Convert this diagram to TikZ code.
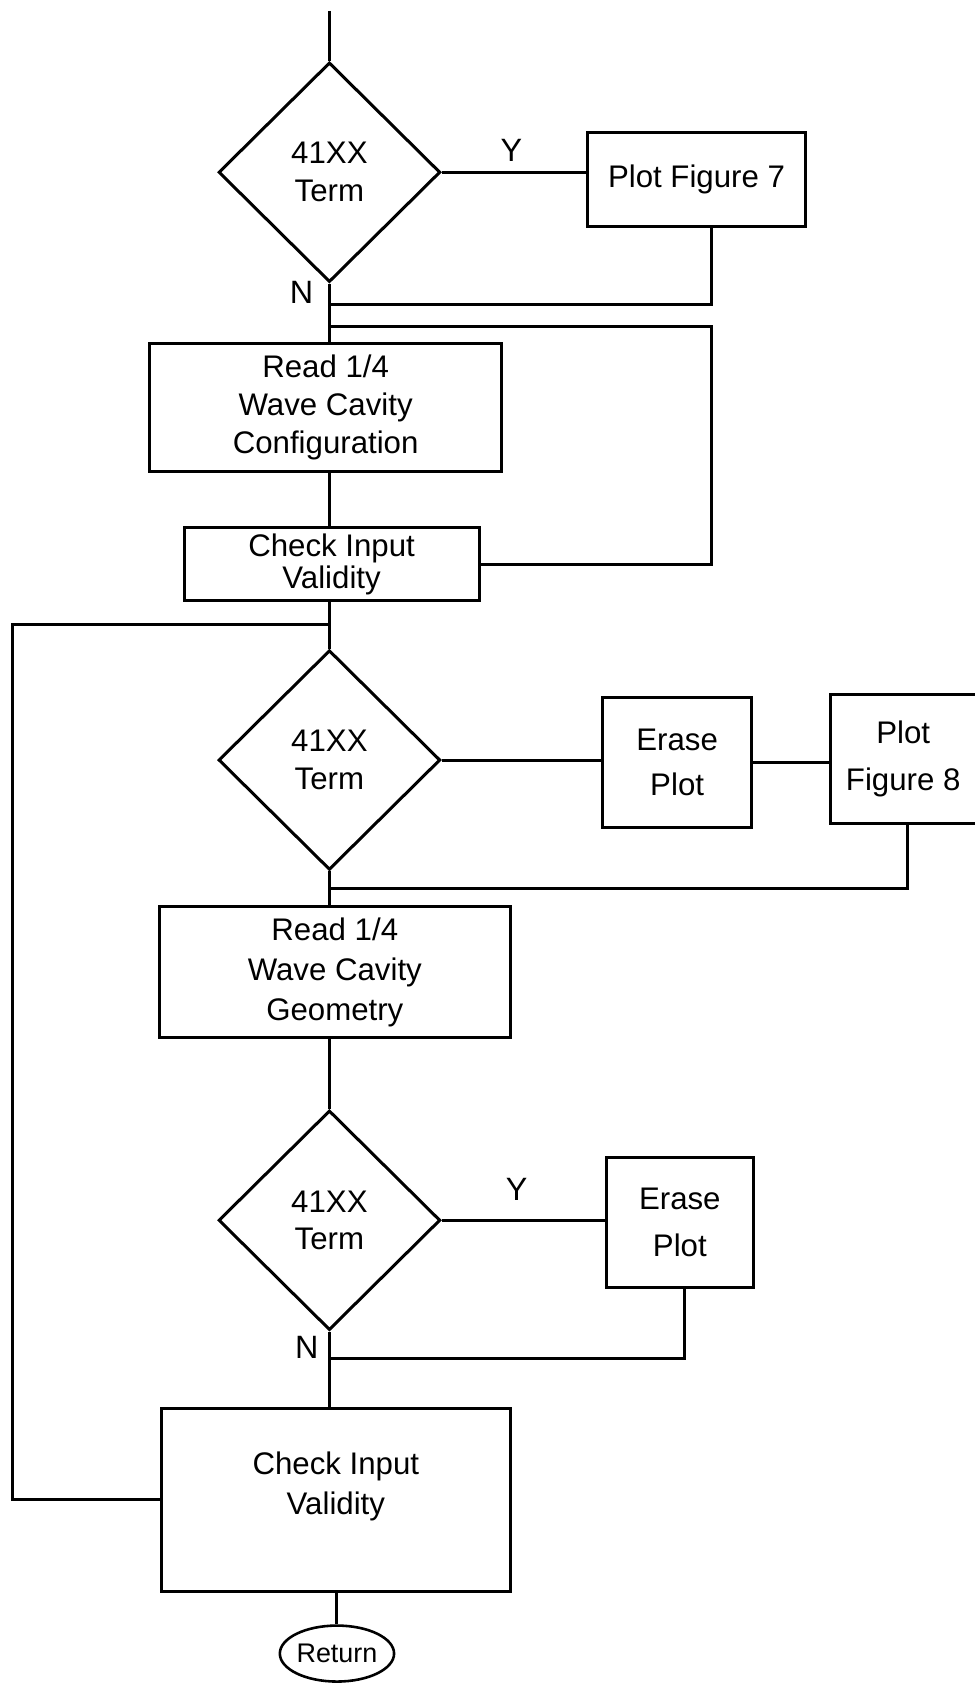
\documentclass[tikz,border=0pt]{standalone}
\usepackage{fontspec}
\setmainfont{Liberation Sans}
\usetikzlibrary{shapes.geometric}
\begin{document}
\begin{tikzpicture}[x=1pt,y=-1pt, line width=2.8pt, line join=miter,
  box/.style={draw, rectangle, align=center, inner sep=0pt, font=\fontsize{29}{35}\selectfont},
  dec/.style={draw, diamond, minimum width=206pt, minimum height=204pt, inner sep=0pt, align=center, font=\fontsize{29}{35}\selectfont},
  lbl/.style={font=\fontsize{30}{30}\selectfont, inner sep=0pt}]
\useasboundingbox (0,0) rectangle (905,1568);

\node[dec] (d1) at (306,160) {41XX\\Term};
\node[box, minimum width=202pt, minimum height=87pt] (pf7) at (647,166.5) {Plot Figure 7};
\node[box, minimum width=327pt, minimum height=119pt] (r1) at (302.5,378.5) {Read 1/4\\Wave Cavity\\Configuration};
\node[box, minimum width=274pt, minimum height=68pt, font=\fontsize{29}{30}\selectfont] (c1) at (308,524) {Check Input\\Validity};
\node[dec] (d2) at (306,706) {41XX\\Term};
\node[box, minimum width=138pt, minimum height=121pt, font=\fontsize{29}{42}\selectfont] (e1) at (629,708.5) {Erase\\Plot};
\node[box, minimum width=136pt, minimum height=120pt, font=\fontsize{29}{43}\selectfont] (pf8) at (839,705) {Plot\\Figure 8};
\node[box, minimum width=326pt, minimum height=122pt, font=\fontsize{29}{37}\selectfont] (r2) at (311,903) {Read 1/4\\Wave Cavity\\Geometry};
\node[dec] (d3) at (306,1133.5) {41XX\\Term};
\node[box, minimum width=137pt, minimum height=121pt, font=\fontsize{29}{43}\selectfont] (e2) at (631.5,1135.5) {Erase\\Plot};
\node[box, minimum width=324pt, minimum height=170pt, text depth=30pt, font=\fontsize{29}{37}\selectfont] (c2) at (312,1393) {Check Input\\Validity};
\node[draw, ellipse, minimum width=104pt, minimum height=52pt, inner sep=0pt, line width=2.4pt, font=\fontsize{25}{25}\selectfont] (ret) at (313,1536) {Return};

\node[lbl] (y1) at (475,140) {Y};
\node[lbl] (n1) at (280,272) {N};
\node[lbl] (y3) at (480,1105) {Y};
\node[lbl] (n3) at (285,1252) {N};

\coordinate (top) at (306,10);
\coordinate (j1) at (306,283);
\coordinate (j2) at (306,303);
\coordinate (j3) at (306,580);
\coordinate (j4) at (306,825);
\coordinate (j5) at (306,1262);
\coordinate (lp) at (12,580);
\coordinate (rp) at (661,303);

\draw (top) -- (d1.north);
\draw (d1.east) -- (d1.east -| pf7.west);
\draw (d1.south) -- (d1.south |- r1.north);
\draw (pf7.south -| 661,0) |- (j1);
\draw (c1.east) -| (rp) -- (j2);
\draw (j2 |- r1.south) -- (j2 |- c1.north);
\draw (j3 |- c1.south) -- (d2.north);
\draw (j3) -- (lp) |- (c2.west);
\draw (d2.east) -- (d2.east -| e1.west);
\draw (e1.east) -- (e1.east -| pf8.west);
\draw (pf8.south -| 843,0) |- (j4);
\draw (d2.south) -- (d2.south |- r2.north);
\draw (d2.south |- r2.south) -- (d3.north);
\draw (d3.east) -- (d3.east -| e2.west);
\draw (e2.south -| 636,0) |- (j5);
\draw (d3.south) -- (d3.south |- c2.north);
\draw (c2.south -| ret.north) -- (ret.north);
\end{tikzpicture}
\end{document}
